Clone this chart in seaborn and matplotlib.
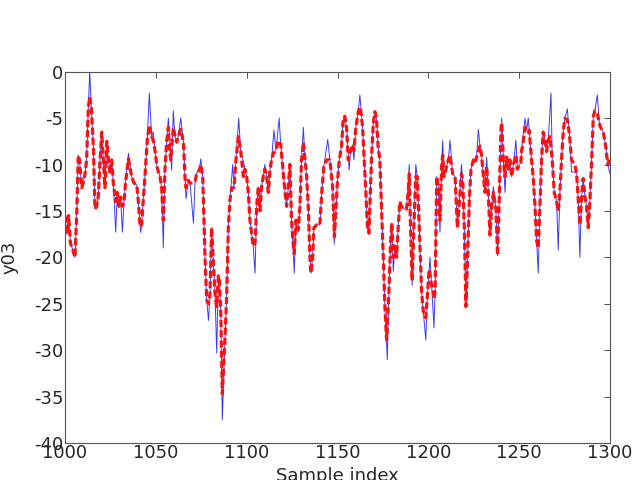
import pandas as pd
import matplotlib
matplotlib.use("Agg")
import matplotlib.pyplot as plt
import seaborn as sns

# model output (red dashed), key points
red_x = [1000, 1001, 1002, 1003, 1004, 1005.5, 1006.5, 1007.3, 1008, 1009.2, 1010, 1011, 1011.9,
         1012.8, 1013.6, 1014.5, 1015.6, 1016.5, 1017.4, 1018.3, 1019.3, 1020.2, 1021.1, 1022, 1023,
         1023.9, 1024.8, 1025.7, 1026.6, 1027.9, 1028.8, 1029.7, 1030.6, 1031.6, 1032.5, 1033.4,
         1034.9, 1036.7, 1038, 1039.5, 1040.4, 1041.3, 1042.2, 1043, 1044, 1045.3, 1046.4, 1047.7,
         1048.6, 1049.6, 1050.6, 1051.4, 1052.3, 1053.2, 1054.1, 1055, 1056, 1056.9, 1057.4, 1058.2,
         1059.6, 1060.5, 1061.5, 1062.4, 1063.7, 1065.2, 1066.1, 1066.6, 1067.9, 1068.8, 1070.3,
         1071.6, 1072.5, 1074, 1074.7, 1075.8, 1076.5, 1077.1, 1078, 1079, 1079.8, 1080.7, 1081.6,
         1082.6, 1083.5, 1084.4, 1085, 1085.7, 1086.6, 1088.1, 1089, 1089.9, 1090.8, 1091.8, 1093,
         1094.1, 1095.4, 1096.7, 1098.2, 1099, 1100, 1100.9, 1101.8, 1102.7, 1103.6, 1104.6, 1105.5,
         1106.4, 1107.3, 1108.2, 1109.1, 1110, 1111, 1111.9, 1112.8, 1113.7, 1114.6, 1116.1, 1117.4,
         1118.7, 1119.8, 1121.1, 1122, 1122.9, 1123.8, 1124.7, 1125.7, 1126.2, 1127.1, 1128.4,
         1129.3, 1130.2, 1131.2, 1132.1, 1133, 1133.9, 1134.8, 1135.4, 1136.3, 1137, 1138.5, 1140.3,
         1141.3, 1142.5, 1144, 1145.8, 1147.3, 1148.3, 1149.9, 1151, 1152.2, 1153.1, 1154, 1155,
         1155.9, 1157.2, 1158.3, 1159, 1160.1, 1161.4, 1162.3, 1162.7, 1163.8, 1164.7, 1165.6,
         1166.5, 1167.3, 1167.8, 1168.7, 1169.7, 1170.6, 1171.5, 1172.4, 1173.3, 1174.2, 1175.2,
         1176.1, 1177, 1178.3, 1179.2, 1179.9, 1180.7, 1181.6, 1182.5, 1183.4, 1184.3, 1185.2,
         1186.5, 1188, 1188.9, 1189.5, 1190.2, 1191.1, 1192, 1193.1, 1193.9, 1195, 1196.3, 1197.2,
         1198.6, 1199.4, 1200.4, 1201.8, 1202.7, 1203.1, 1203.7, 1204.6, 1205.5, 1206.4, 1207.3,
         1207.9, 1208.6, 1209.7, 1211, 1211.9, 1212.5, 1213.4, 1214.7, 1216, 1217.1, 1218.2,
         1218.9, 1219.8, 1220.7, 1221.6, 1222.6, 1223.5, 1224.8, 1225.7, 1226.6, 1227.5, 1228.4,
         1229.3, 1230.3, 1231.2, 1232.1, 1233, 1233.9, 1234.9, 1235.8, 1237.2, 1238.1, 1239.1,
         1240, 1240.4, 1241.3, 1242.2, 1243.1, 1244, 1244.9, 1245.9, 1246.8, 1248.2, 1249, 1250.1,
         1250.9, 1251.3, 1251.9, 1253.2, 1254.1, 1255, 1255.5, 1256.8, 1257.7, 1258.7, 1259.6,
         1260.5, 1261.4, 1262.3, 1263.2, 1264.2, 1265.1, 1266, 1266.9, 1268.2, 1269.3, 1270.6,
         1271.5, 1272.4, 1273.3, 1274.3, 1275.2, 1276.5, 1277, 1277.9, 1278.8, 1280.7, 1281.6,
         1282.5, 1283.4, 1284.3, 1285.2, 1286.2, 1287.1, 1288, 1288.9, 1289.9, 1290.8, 1291.7,
         1293, 1294.1, 1294.8, 1296.3, 1297.7, 1298.7, 1300]
red_y = [-15.5, -17.5, -15.5, -18.5, -19, -20, -15, -9, -9.5, -12.5, -12, -11, -9.5,
         -4, -2.7, -4, -8, -14.8, -14.5, -13.5, -9.5, -6.5, -9.5, -12.5, -7.5,
         -9.5, -11, -9.5, -12, -14, -13, -14.5, -13.5, -14.5, -14, -11.8,
         -9.4, -11.3, -12, -12.2, -14, -16.7, -16.5, -14, -11.3, -7.3, -5.8, -7,
         -7.4, -8.6, -10.2, -10.8, -11.3, -12.5, -16, -10.6, -7.4, -6, -8, -9.5,
         -6, -6.9, -7.6, -6.9, -6.2, -7.6, -11.5, -12.5, -11.7, -12, -12,
         -11.8, -10.9, -10.6, -10, -11.3, -15.9, -20.2, -24.6, -25, -24, -16.8, -20.2,
         -24, -25.3, -22, -22.5, -25.7, -34.7, -28.5, -24, -16.8, -13.8, -12.5, -12.5,
         -9.5, -7, -8.5, -11.3, -10.5, -11.3, -13, -16, -17.4, -18.8, -18.5, -14.5,
         -12.4, -15, -12.4, -11.3, -10.5, -11.3, -13, -10.6, -9.5, -8.8, -8.5, -7.4,
         -7.8, -10.2, -13, -14.5, -12.4, -10, -16, -18.8, -19.6, -16, -17,
         -14.5, -9.5, -7.6, -9.5, -11.3, -14.5, -19.9, -21.7, -20, -16.8, -16.5, -16.5,
         -13, -10.2, -9.5, -9.5, -12.4, -17.8, -12, -9.5, -8, -5.2, -4.8, -6,
         -9.5, -8.5, -7.9, -8.5, -6, -4.3, -3.8, -4, -6, -9.5, -13,
         -16.8, -17.4, -14.5, -9.5, -5.5, -4.3, -5.2, -8.2, -9.5, -14.5, -20,
         -25.4, -28.9, -23.7, -18.4, -16.3, -20, -18.8, -20, -16.8, -14, -14.5,
         -14.8, -14.8, -13, -11, -16.8, -22.5, -16.8, -11.3, -11.3, -16.8, -23.7, -25.8,
         -26.5, -24.3, -21.3, -23, -23.7, -24.5, -23.7, -11.3, -12.4, -16, -10.2,
         -9, -11.3, -10.5, -9.5, -9, -9.8, -11, -11.3, -16.8, -14, -11,
         -11.6, -16.8, -25.3, -20.2, -13.5, -10.5, -9.5, -9.8, -9.2, -8.5, -8,
         -9, -11.3, -13, -10.2, -13, -17.6, -14.5, -13, -14.8, -19.8, -13,
         -6, -5.5, -9.5, -11.3, -9.2, -10.5, -9.5, -11.3, -10, -9, -10.5, -10,
         -9.8, -8.5, -8, -6, -6.3, -6.5, -6.3, -9.5, -11.3, -14.5, -18.2,
         -19, -14.5, -9.5, -6.5, -7.3, -8.6, -7.4, -7, -9.5, -13, -14,
         -15, -13, -9.5, -6.3, -5, -5.2, -5.8, -7.3, -9.5, -10, -11,
         -13.7, -16.5, -13.7, -11.5, -13.5, -14.5, -16.8, -14, -9.5, -4.8, -4.2,
         -4.5, -5.5, -6, -6.5, -8.1, -10, -9.5]

# measured signal (blue) follows the model but with sharper spikes
spike_x = [1013.6, 1027.9, 1031.6, 1034.9, 1041.6, 1046.4, 1048.6, 1054.1, 1056.9, 1058.7,
           1059.6, 1063.7, 1066.6, 1070.7, 1074.7, 1079, 1083.5, 1086.6, 1092.3, 1095.6,
           1098.6, 1104.6, 1110, 1115, 1117.9, 1126.2, 1128.4, 1131.2, 1144.6, 1148.2,
           1156.4, 1159, 1162.3, 1177.4, 1180.7, 1189.5, 1191.1, 1193.1, 1198.6, 1200.9,
           1203.1, 1206.4, 1207.9, 1211.9, 1218.2, 1227.5, 1232.1, 1235.8, 1240.4, 1242.2,
           1248.2, 1251.9, 1253.2, 1255, 1260.5, 1267.5, 1271.5, 1276.5, 1278.8, 1280.7,
           1283.4, 1293, 1300]
spike_y = [0, -17.3, -17.3, -8.8, -17.3, -2.3, -6.5, -19, -5, -10.6,
           -4.2, -5, -13.7, -16.3, -9.4, -26.8, -30.3, -37.5, -10, -5,
           -10, -21.7, -10, -6.3, -5, -21.7, -17.3, -6, -7.3, -18.6,
           -10.6, -9.5, -2.5, -31, -21.5, -10, -23, -10, -28.9, -20,
           -27.6, -17.3, -7.4, -7.4, -10, -6.2, -9.2, -12.4, -5, -13,
           -7.4, -7.4, -5, -5, -21.7, -2.3, -19.2, -4, -10.8, -10.8,
           -20, -2.5, -11]

red = pd.DataFrame({"x": red_x, "y": red_y})
spikes = pd.DataFrame({"x": spike_x, "y": spike_y})
near = red["x"].apply(lambda v: (spikes["x"] - v).abs().min() < 0.6)
blue = pd.concat([red[~near], spikes]).sort_values("x")

sns.set_style("white")
plt.rcParams["font.family"] = ["DejaVu Sans"]
plt.rcParams["axes.unicode_minus"] = False

fig = plt.figure(figsize=(6.33, 4.8), dpi=100)
ax = fig.add_axes([0.1027, 0.0771, 0.861, 0.7735])

sns.lineplot(data=blue, x="x", y="y", ax=ax, color="#3a3aff", linewidth=0.7, sort=False)
sns.lineplot(data=red, x="x", y="y", ax=ax, color="#ff1010", linewidth=2.3,
             linestyle=(0, (2.2, 1.0)), sort=False)

ax.set_xlim(1000, 1300)
ax.set_ylim(-40, 0)
ax.set_xticks(range(1000, 1301, 50))
ax.set_yticks(range(-40, 1, 5))
ax.tick_params(direction="in", length=4, top=True, right=True, labelsize=13,
               color="#333333", width=0.6, pad=1)
for s in ax.spines.values():
    s.set_color("#555555")
    s.set_linewidth(0.8)

ax.set_xlabel("Sample index", fontsize=13)
ax.xaxis.set_label_coords(0.5, -0.066)
ax.set_ylabel("y03", fontsize=13)
ax.yaxis.set_label_coords(-0.085, 0.5)

fig.savefig("out.png", dpi=100)
